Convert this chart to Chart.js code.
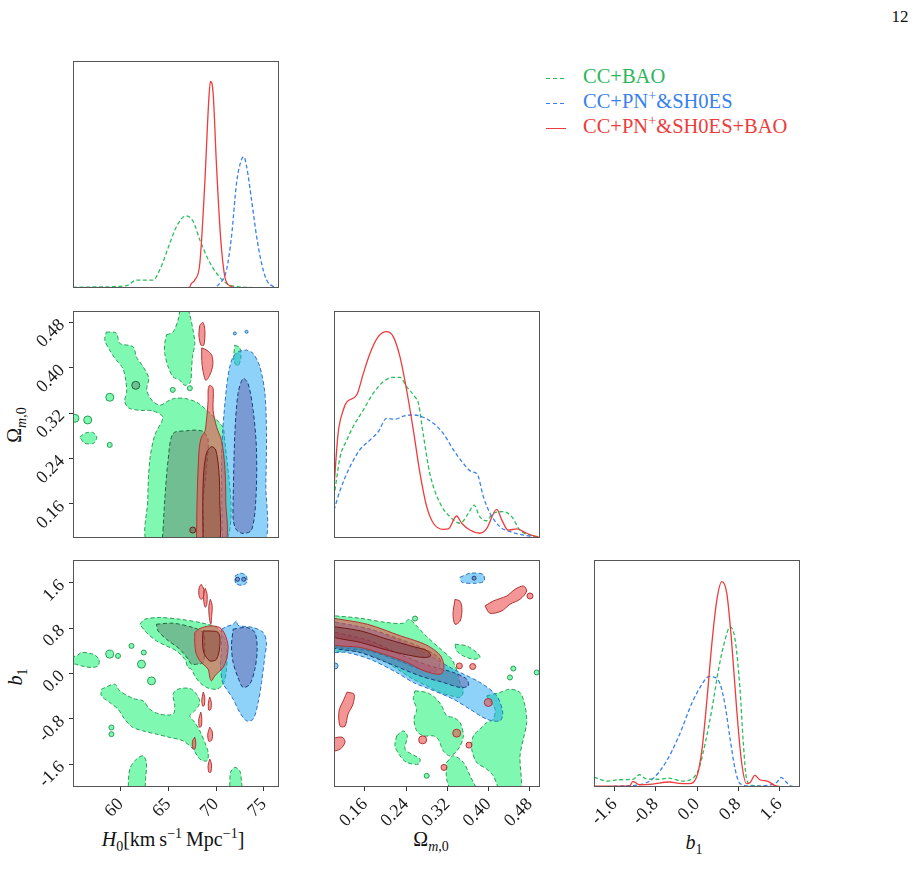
<!DOCTYPE html>
<html>
<head>
<meta charset="utf-8">
<script src="https://cdn.jsdelivr.net/npm/chart.js@4.4.1/dist/chart.umd.min.js"></script>
<style>
  body { margin: 0; background: #fff; }
  #page { position: relative; width: 917px; height: 893px; overflow: hidden; background: #fff;
          font-family: 'Liberation Serif', 'Times New Roman', serif; color: #111; }
  canvas.panel { position: absolute; }
  .txt { position: absolute; white-space: nowrap; transform: translate(-50%, -50%); font-size: 20px; }
  .vert { transform: translate(-50%, -50%) rotate(-90deg); }
  .leg { position: absolute; left: 546px; font-size: 20.5px; line-height: 25px; white-space: nowrap; }
  .leg span.mark { display: inline-block; width: 20px; height: 1.4px; vertical-align: middle; margin-right: 17px; }
  sub, sup { font-size: 70%; line-height: 0; }
</style>
</head>
<body>
<div id="page">
  <div class="txt" style="left:900px; top:17px; font-size:17px;">12</div>

  <div class="leg" style="top:64px; color:#2bb65a;"><span class="mark" style="background:repeating-linear-gradient(to right,#2bb65a 0 4px,transparent 4px 7px);"></span>CC+BAO</div>
  <div class="leg" style="top:89px; color:#3a7fee;"><span class="mark" style="background:repeating-linear-gradient(to right,#3a7fee 0 4px,transparent 4px 7px);"></span>CC+PN<sup>+</sup>&amp;SH0ES</div>
  <div class="leg" style="top:114px; color:#ec3d3d;"><span class="mark" style="background:#ec3d3d;"></span>CC+PN<sup>+</sup>&amp;SH0ES+BAO</div>

  <div class="txt" style="left:173px; top:839px;"><i>H</i><sub>0</sub>[km&#8201;s<sup>&#8722;1</sup>&#8201;Mpc<sup>&#8722;1</sup>]</div>
  <div class="txt" style="left:431px; top:839px;">&#937;<sub><i>m</i>,0</sub></div>
  <div class="txt" style="left:694px; top:842px;"><i>b</i><sub>1</sub></div>
  <div class="txt vert" style="left:14px; top:425px;">&#937;<sub><i>m</i>,0</sub></div>
  <div class="txt vert" style="left:15px; top:677px;"><i>b</i><sub>1</sub></div>
</div>

<script>
// ---- axis ranges and ticks ----
const h0Range = [55, 76.6];
const omRange = [0.1, 0.5];
const b1Range = [-2, 2];
const h0Ticks = [60, 65, 70, 75];
const omTicks = [0.16, 0.24, 0.32, 0.40, 0.48];
const b1Ticks = [-1.6, -0.8, 0.0, 0.8, 1.6];

// ---- 1D marginals (relative height) ----
const h0GreenX = [55.0, 58.0, 60.6, 61.65, 63.4, 64.1, 65.15, 65.85, 66.83, 67.6, 68.3, 69.2, 70.05, 71.1, 72.5, 76.6];
const h0GreenY = [0.003, 0.005, 0.01, 0.035, 0.035, 0.08, 0.197, 0.27, 0.318, 0.293, 0.212, 0.124, 0.065, 0.02, 0.005, 0.0];
const h0BlueX = [67.4, 69.35, 70.39, 71.1, 71.62, 72.15, 72.67, 72.91, 73.2, 73.72, 74.25, 74.77, 75.3, 75.99, 76.6];
const h0BlueY = [0, 0, 0.02, 0.08, 0.227, 0.463, 0.566, 0.578, 0.536, 0.389, 0.227, 0.109, 0.035, 0.007, 0];
const h0RedX = [65.85, 67.2, 67.42, 67.77, 68.3, 68.82, 69.24, 69.41, 69.69, 70.05, 70.47, 70.92, 71.44, 72.15];
const h0RedY = [0, 0.003, 0.02, 0.035, 0.109, 0.463, 0.83, 0.91, 0.86, 0.536, 0.227, 0.05, 0.01, 0];

const omGreenX = [0.1, 0.112, 0.125, 0.137, 0.157, 0.176, 0.196, 0.215, 0.228, 0.241, 0.257, 0.264, 0.273, 0.286, 0.306, 0.325, 0.345, 0.361, 0.372, 0.383, 0.396, 0.409, 0.429, 0.445, 0.461, 0.48, 0.5];
const omGreenY = [0.182, 0.358, 0.432, 0.49, 0.564, 0.637, 0.689, 0.708, 0.708, 0.667, 0.622, 0.593, 0.461, 0.285, 0.153, 0.094, 0.065, 0.109, 0.145, 0.094, 0.076, 0.109, 0.116, 0.094, 0.035, 0.013, 0.005];
const omBlueX = [0.1, 0.112, 0.131, 0.15, 0.17, 0.186, 0.202, 0.218, 0.235, 0.254, 0.273, 0.293, 0.312, 0.332, 0.351, 0.367, 0.378, 0.39, 0.403, 0.422, 0.442, 0.468, 0.5];
const omBlueY = [0.123, 0.211, 0.314, 0.388, 0.432, 0.468, 0.527, 0.523, 0.537, 0.542, 0.532, 0.505, 0.461, 0.388, 0.329, 0.292, 0.282, 0.182, 0.109, 0.05, 0.028, 0.013, 0];
const omRedX = [0.1, 0.108, 0.118, 0.125, 0.144, 0.157, 0.170, 0.186, 0.202, 0.215, 0.228, 0.241, 0.254, 0.267, 0.28, 0.293, 0.312, 0.322, 0.338, 0.348, 0.364, 0.383, 0.396, 0.416, 0.426, 0.438, 0.455, 0.474, 0.5];
const omRedY = [0.226, 0.461, 0.564, 0.60, 0.63, 0.725, 0.814, 0.887, 0.909, 0.887, 0.799, 0.652, 0.476, 0.285, 0.138, 0.065, 0.038, 0.04, 0.097, 0.065, 0.035, 0.021, 0.04, 0.126, 0.079, 0.035, 0.04, 0.021, 0];

const b1GreenX = [-2.0, -1.917, -1.757, -1.501, -1.245, -1.117, -0.989, -0.733, -0.541, -0.285, -0.094, 0.035, 0.163, 0.29, 0.418, 0.547, 0.643, 0.739, 0.835, 0.898, 0.962, 1.058, 2.0];
const b1GreenY = [0.044, 0.036, 0.026, 0.032, 0.034, 0.054, 0.036, 0.034, 0.039, 0.026, 0.036, 0.08, 0.197, 0.343, 0.518, 0.65, 0.705, 0.65, 0.431, 0.197, 0.036, 0.007, 0.0];
const b1BlueX = [-2.0, -1.501, -1.117, -0.861, -0.605, -0.349, -0.094, 0.098, 0.226, 0.354, 0.45, 0.547, 0.643, 0.739, 0.835, 1.058, 1.442, 1.557, 1.634, 1.73, 1.826, 2.0];
const b1BlueY = [0.0, 0.004, 0.01, 0.036, 0.109, 0.226, 0.372, 0.453, 0.486, 0.482, 0.453, 0.358, 0.212, 0.08, 0.015, 0.004, 0.01, 0.022, 0.042, 0.022, 0.004, 0.0];
const b1RedX = [-2.0, -1.629, -1.309, -1.245, -1.117, -0.861, -0.541, -0.349, -0.157, 0.002, 0.098, 0.194, 0.29, 0.386, 0.482, 0.578, 0.674, 0.77, 0.866, 0.962, 1.026, 1.123, 1.219, 1.378, 1.507, 1.762, 2.0];
const b1RedY = [0.004, 0.004, 0.004, 0.025, 0.01, 0.013, 0.022, 0.016, 0.015, 0.05, 0.168, 0.387, 0.635, 0.825, 0.905, 0.854, 0.635, 0.343, 0.109, 0.015, 0.018, 0.051, 0.032, 0.025, 0.007, 0.0, 0.0];

// ---- H0 vs Omega contours ----
const h0OmGreenOuter = [[58.50,0.463],[59.55,0.461],[59.90,0.443],[61.30,0.437],[61.65,0.419],[62.35,0.402],[62.94,0.382],[62.73,0.361],[63.26,0.343],[64.10,0.334],[65.15,0.343],[65.67,0.346],[66.72,0.346],[67.98,0.339],[69.03,0.325],[70.08,0.308],[70.82,0.290],[70.92,0.09],[62.94,0.09],[62.84,0.167],[63.05,0.237],[63.57,0.281],[64.41,0.313],[63.36,0.324],[62.0,0.325],[60.84,0.329],[60.42,0.341],[60.63,0.357],[60.53,0.378],[60.22,0.399],[59.38,0.417],[58.85,0.431],[58.33,0.449]];
const h0OmGreenBlob = [[64.80,0.458],[65.49,0.463],[66.02,0.484],[66.37,0.51],[66.90,0.51],[67.25,0.493],[67.59,0.466],[67.77,0.443],[67.53,0.419],[67.42,0.396],[67.32,0.375],[66.72,0.369],[66.20,0.378],[65.49,0.384],[64.97,0.402],[64.62,0.425],[64.62,0.443]];
const h0OmGreenIsle = [[55.70,0.278],[56.33,0.285],[57.07,0.286],[57.49,0.278],[57.17,0.267],[56.23,0.267]];
const h0OmGreenPatch = [[71.97,0.440],[72.49,0.435],[72.60,0.417],[72.28,0.403],[71.86,0.413]];
const h0OmGreenDotsBig = [[58.86,0.348],[56.54,0.308],[55.2,0.311]];
const h0OmGreenDotsSmall = [[58.85,0.264],[65.46,0.361],[67.25,0.364]];
const h0OmGreenInner = [[64.44,0.114],[64.62,0.167],[64.97,0.237],[65.49,0.284],[66.90,0.289],[67.95,0.290],[68.71,0.287],[69.17,0.272],[69.0,0.225],[68.64,0.167],[68.30,0.09],[64.52,0.09]];
const h0OmGreenInnerDots = [[61.58,0.369]];
const h0OmBlueOuter = [[70.68,0.09],[70.57,0.225],[70.68,0.284],[71.10,0.366],[71.44,0.402],[71.79,0.419],[72.31,0.428],[73.20,0.431],[73.89,0.425],[74.59,0.402],[75.12,0.355],[75.29,0.284],[75.22,0.196],[75.01,0.09]];
const h0OmBlueInner = [[71.79,0.167],[71.97,0.284],[72.31,0.355],[72.84,0.381],[73.36,0.372],[73.89,0.325],[74.24,0.255],[74.17,0.167],[73.72,0.114],[72.84,0.108],[72.15,0.114],[71.81,0.131]];
const h0OmBlueDots = [[71.97,0.4605],[73.2,0.4633]];
const h0OmRedOuter = [[67.95,0.09],[68.01,0.167],[68.22,0.255],[68.47,0.278],[68.82,0.287],[69.0,0.308],[69.17,0.343],[69.17,0.361],[69.34,0.369],[69.69,0.364],[69.69,0.325],[70.05,0.296],[70.57,0.272],[70.92,0.225],[71.02,0.167],[70.92,0.09]];
const h0OmRedInner = [[68.64,0.09],[68.61,0.167],[68.72,0.219],[69.03,0.251],[69.52,0.261],[69.97,0.255],[70.29,0.219],[70.39,0.167],[70.29,0.09]];
const h0OmRedIsleA = [[68.30,0.475],[68.62,0.480],[68.83,0.466],[68.72,0.440],[68.41,0.440],[68.20,0.458]];
const h0OmRedIsleB = [[68.50,0.435],[69.03,0.431],[69.55,0.422],[69.66,0.405],[69.34,0.387],[68.92,0.378],[68.61,0.396],[68.50,0.413]];
const h0OmRedDots = [[67.56,0.114]];

// ---- H0 vs b1 contours ----
const h0B1GreenUpper = [[62.0,0.868],[62.52,0.956],[64.10,0.986],[66.20,0.956],[68.30,0.898],[70.05,0.810],[70.74,0.662],[71.10,0.428],[71.10,0.076],[70.74,-0.188],[70.05,-0.276],[69.0,-0.246],[68.30,-0.158],[67.77,-0.042],[67.42,0.076],[67.07,0.106],[66.72,0.252],[65.85,0.398],[64.80,0.486],[63.75,0.574],[62.70,0.722]];
const h0B1GreenInner = [[63.75,0.868],[65.49,0.886],[67.59,0.810],[68.64,0.722],[68.82,0.486],[68.64,0.194],[67.95,0.164],[67.42,0.164],[67.07,0.252],[66.20,0.428],[64.80,0.604],[63.92,0.750]];
const h0B1GreenBand = [[57.98,-0.276],[59.38,-0.188],[59.90,-0.306],[61.30,-0.440],[62.35,-0.482],[63.05,-0.629],[64.10,-0.717],[65.49,-0.717],[65.67,-0.570],[65.49,-0.364],[66.02,-0.276],[67.25,-0.264],[67.95,-0.364],[68.30,-0.511],[67.77,-0.658],[67.25,-0.746],[67.77,-0.863],[68.30,-1.011],[68.82,-1.215],[69.17,-1.391],[69.06,-1.539],[68.30,-1.509],[67.59,-1.333],[66.54,-1.187],[65.15,-1.127],[63.75,-1.069],[62.35,-1.011],[61.30,-0.951],[60.42,-0.804],[59.72,-0.629],[58.85,-0.511],[57.98,-0.394]];
const h0B1GreenLow = [[60.77,-2.1],[60.95,-1.685],[61.65,-1.509],[62.35,-1.451],[62.70,-1.567],[62.63,-1.803],[62.35,-2.1]];
const h0B1GreenCorner = [[71.44,-2.1],[71.52,-1.743],[71.97,-1.655],[72.49,-1.715],[72.67,-1.919],[72.67,-2.1]];
const h0B1GreenLeft = [[54.8,0.30],[55.42,0.310],[55.88,0.370],[57.10,0.340],[57.73,0.252],[57.62,0.134],[56.93,0.106],[55.88,0.134],[55.28,0.164],[54.8,0.18]];
const h0B1GreenDotsBig = [[58.85,0.341],[62.18,0.164],[63.23,-0.130]];
const h0B1GreenDotsSmall = [[59.72,0.310],[61.13,0.486],[62.42,0.370],[59.03,-0.951],[59.03,-1.069]];
const h0B1BlueOuter = [[70.57,0.780],[71.10,0.827],[71.79,0.868],[72.15,0.926],[72.31,0.850],[73.89,0.810],[74.94,0.722],[75.29,0.546],[75.12,0.310],[74.77,-0.158],[74.41,-0.511],[73.89,-0.805],[73.20,-0.834],[72.49,-0.687],[71.79,-0.452],[71.10,-0.276],[70.68,-0.158],[70.47,0.134],[70.57,0.428]];
const h0B1BlueInner = [[71.79,0.780],[73.20,0.810],[74.07,0.722],[74.31,0.428],[74.07,0.076],[73.54,-0.188],[72.84,-0.246],[72.31,-0.076],[71.79,0.194],[71.62,0.486]];
const h0B1BlueIsle = [[71.97,1.713],[72.49,1.766],[73.12,1.731],[73.23,1.607],[72.70,1.554],[72.07,1.590]];
const h0B1BlueIsleCore = [[72.25,1.66],[72.9,1.66]];
const h0B1RedOuter = [[67.77,0.722],[68.30,0.792],[69.34,0.838],[70.39,0.810],[70.92,0.692],[71.26,0.486],[71.10,0.252],[70.74,0.106],[70.22,0.018],[69.87,-0.042],[69.52,-0.130],[69.34,-0.070],[69.17,0.076],[68.30,0.222],[67.88,0.370],[67.77,0.546]];
const h0B1RedInner = [[68.64,0.750],[70.22,0.722],[70.39,0.486],[70.05,0.252],[69.34,0.222],[68.71,0.370],[68.58,0.604]];
const h0B1RedIsles = [
  [[68.45,1.572],[68.71,1.484],[68.66,1.343],[68.40,1.308],[68.19,1.396],[68.24,1.519]],
  [[68.87,1.502],[69.06,1.396],[69.03,1.220],[68.87,1.167],[68.71,1.273],[68.71,1.414]],
  [[69.40,1.308],[69.59,1.202],[69.55,1.026],[69.45,0.868],[69.29,0.991],[69.24,1.185]],
  [[68.66,-0.329],[68.82,-0.417],[68.77,-0.558],[68.61,-0.575],[68.50,-0.470]],
  [[69.34,-0.417],[69.50,-0.505],[69.45,-0.628],[69.24,-0.646],[69.19,-0.523]],
  [[68.40,-0.681],[68.50,-0.769],[68.45,-0.928],[68.24,-0.945],[68.19,-0.805]],
  [[69.34,-0.945],[69.61,-1.033],[69.55,-1.174],[69.24,-1.192],[69.13,-1.069]],
  [[67.77,-1.121],[67.88,-1.227],[67.77,-1.333],[67.56,-1.315],[67.53,-1.192]],
  [[69.34,-1.509],[69.52,-1.597],[69.45,-1.738],[69.24,-1.738],[69.17,-1.615]]
];

// ---- Omega vs b1 contours ----
const omB1GreenOuter = [[0.09,1.026],[0.1505,0.974],[0.2023,0.898],[0.2346,0.886],[0.2462,0.956],[0.2573,0.868],[0.2800,0.651],[0.3058,0.440],[0.3285,0.252],[0.3382,0.063],[0.3433,-0.130],[0.3511,-0.306],[0.3447,-0.423],[0.3285,-0.394],[0.3058,-0.335],[0.2800,-0.218],[0.2540,-0.100],[0.2282,0.046],[0.2023,0.194],[0.1699,0.322],[0.1375,0.398],[0.09,0.428]];
const omB1GreenInner = [[0.09,0.921],[0.1699,0.780],[0.2282,0.604],[0.2767,0.428],[0.3058,0.252],[0.2981,0.040],[0.2670,0.076],[0.2282,0.217],[0.1699,0.393],[0.09,0.516]];
const omB1GreenPatchA = [[0.2573,-0.306],[0.2800,-0.335],[0.2961,-0.423],[0.3091,-0.570],[0.3188,-0.746],[0.3317,-0.775],[0.3447,-0.863],[0.3511,-1.099],[0.3414,-1.333],[0.3252,-1.451],[0.3122,-1.363],[0.3025,-1.157],[0.2928,-1.099],[0.2734,-1.099],[0.2606,-1.011],[0.2553,-0.805],[0.2606,-0.629],[0.2540,-0.452]];
const omB1GreenPatchB = [[0.3965,-0.394],[0.4223,-0.335],[0.4417,-0.276],[0.4612,-0.335],[0.4709,-0.570],[0.4742,-0.863],[0.4676,-1.157],[0.4612,-1.451],[0.4612,-2.1],[0.4256,-2.1],[0.4093,-1.803],[0.3965,-1.685],[0.3771,-1.567],[0.3674,-1.333],[0.3705,-1.099],[0.3835,-0.981],[0.3965,-0.863],[0.4093,-0.805],[0.4126,-0.629],[0.4029,-0.488]];
const omB1GreenPatchC = [[0.3188,-1.567],[0.3317,-1.451],[0.3511,-1.567],[0.3641,-1.803],[0.3771,-2.1],[0.3317,-2.1],[0.3188,-1.861]];
const omB1GreenPatchD = [[0.2217,-1.099],[0.2346,-1.011],[0.2423,-1.099],[0.2379,-1.333],[0.2509,-1.421],[0.2670,-1.509],[0.2637,-1.597],[0.2412,-1.567],[0.2282,-1.451],[0.2184,-1.275]];
const omB1GreenPatchE = [[0.3350,0.516],[0.3577,0.486],[0.3771,0.370],[0.3835,0.282],[0.3705,0.252],[0.3511,0.310],[0.3382,0.398]];
const omB1GreenDots = [[0.4417,-0.070],[0.4482,0.088],[0.4936,0.018],[0.2573,0.968],[0.2800,-1.803]];
const omB1BlueOuter = [[0.09,0.93],[0.1699,0.780],[0.2346,0.546],[0.2864,0.310],[0.3317,0.076],[0.3835,-0.158],[0.4159,-0.394],[0.4276,-0.687],[0.4223,-0.834],[0.3965,-0.805],[0.3641,-0.629],[0.3317,-0.452],[0.2864,-0.276],[0.2540,-0.158],[0.2217,0.018],[0.1699,0.252],[0.1247,0.370],[0.09,0.398]];
const omB1BlueInner = [[0.09,0.750],[0.1699,0.574],[0.2346,0.310],[0.2864,0.134],[0.3317,0.018],[0.3577,-0.100],[0.3608,-0.218],[0.3447,-0.246],[0.3122,-0.158],[0.2670,-0.042],[0.2023,0.194],[0.1505,0.370],[0.09,0.486]];
const omB1BlueIsle = [[0.3447,1.695],[0.3641,1.766],[0.3893,1.748],[0.3913,1.625],[0.3738,1.590],[0.3485,1.607]];
const omB1BlueIsleCore = [[0.372,1.68]];
const omB1BlueDots = [[0.102,0.134]];
const omB1RedOuter = [[0.09,0.986],[0.1647,0.868],[0.2295,0.662],[0.2683,0.546],[0.2878,0.458],[0.3072,0.310],[0.3136,0.106],[0.3072,-0.012],[0.2748,0.046],[0.2423,0.194],[0.1971,0.340],[0.1518,0.458],[0.09,0.546]];
const omB1RedInner = [[0.09,0.838],[0.1518,0.750],[0.2035,0.604],[0.2489,0.486],[0.2812,0.398],[0.2878,0.310],[0.2748,0.282],[0.2359,0.340],[0.1971,0.428],[0.1518,0.546],[0.09,0.674]];
const omB1RedIsles = [
  [[0.3350,1.308],[0.3447,1.273],[0.3485,1.132],[0.3447,0.921],[0.3350,0.868],[0.3311,1.044]],
  [[0.3932,1.190],[0.4093,1.278],[0.4353,1.366],[0.4515,1.484],[0.4676,1.542],[0.4742,1.454],[0.4612,1.308],[0.4417,1.220],[0.4256,1.102],[0.4029,1.062]],
  [[0.1252,-0.329],[0.1388,-0.364],[0.1369,-0.540],[0.1272,-0.716],[0.1214,-0.927],[0.1117,-0.927],[0.1097,-0.663],[0.1194,-0.452]],
  [[0.09,-1.157],[0.1155,-1.121],[0.1214,-1.209],[0.1117,-1.333],[0.09,-1.368]]
];
const omB1RedDotsBig = [[0.3996,-0.511],[0.3382,-1.051],[0.2722,-1.169]];
const omB1RedDotsSmall = [[0.3434,0.134],[0.3693,0.123],[0.3621,-1.262],[0.3136,-1.655],[0.4806,1.366]];

// ---- styling ----
const SERIF = "'Liberation Serif', 'Times New Roman', serif";
Chart.defaults.font.family = SERIF;

const STY = {
  green: { line: '#2bbf5c', outerFill: 'rgba(0,241,100,0.5)', innerFill: 'rgba(90,110,100,0.42)', outerEdge: '#2a9d55', innerEdge: '#1d6a3c', dash: [4, 2.5] },
  blue:  { line: '#3a80ee', outerFill: 'rgba(30,165,245,0.5)', innerFill: 'rgba(91,72,155,0.4)', outerEdge: '#2f6fc0', innerEdge: '#1b3a7a', dash: [4, 2.5] },
  red:   { line: '#ee3b3b', outerFill: 'rgba(236,80,80,0.6)', innerFill: 'rgba(110,40,35,0.36)', outerEdge: '#b03434', innerEdge: '#761818', dash: [] }
};

const PW = 206, PH = 227;
const PAD_TOP = 30, PAD_LEFT = 70, PAD_RIGHT = 10, PAD_BOTTOM = 75;
const page = document.getElementById('page');

function toXY(arr) { return arr.map(p => ({ x: p[0], y: p[1] })); }

function region(pts, s, inner) {
  return {
    data: toXY(pts.concat([pts[0]])), showLine: true, fill: 'shape',
    backgroundColor: inner ? s.innerFill : s.outerFill,
    borderColor: inner ? s.innerEdge : s.outerEdge,
    borderWidth: 1, borderDash: s.dash, pointRadius: 0, tension: 0.3
  };
}

function dots(pts, r, s, inner) {
  return {
    data: toXY(pts), showLine: false, pointRadius: r, pointHoverRadius: r,
    pointBackgroundColor: inner ? s.innerFill : s.outerFill,
    pointBorderColor: inner ? s.innerEdge : s.outerEdge, pointBorderWidth: 1
  };
}

function line1d(xs, ys, s) {
  return {
    data: xs.map((x, i) => ({ x: x, y: ys[i] })), showLine: true, fill: false,
    borderColor: s.line, borderWidth: 1.3, borderDash: s.dash, pointRadius: 0,
    cubicInterpolationMode: 'monotone'
  };
}

// full box round the plotting area
const framePlugin = {
  id: 'frame',
  afterDatasetsDraw(chart) {
    const a = chart.chartArea, c = chart.ctx;
    c.save();
    c.strokeStyle = '#555';
    c.lineWidth = 1;
    c.strokeRect(a.left + 0.5, a.top + 0.5, a.right - a.left - 1, a.bottom - a.top - 1);
    c.restore();
  }
};

function axis(range, ticks, fmt, isX) {
  const show = !!ticks;
  return {
    type: 'linear', min: range[0], max: range[1],
    afterBuildTicks: s => { s.ticks = (ticks || []).map(v => ({ value: v })); },
    afterFit: s => { if (isX) s.height = PAD_BOTTOM; else s.width = PAD_LEFT; },
    border: { display: false },
    grid: { display: show, drawOnChartArea: false, drawTicks: show, tickLength: 4, color: '#333', tickColor: '#333' },
    ticks: {
      display: show, minRotation: 45, maxRotation: 45, autoSkip: false, padding: isX ? 3 : 7,
      color: '#1a1a1a', font: { family: SERIF, size: 18 },
      callback: v => fmt(v)
    }
  };
}

function makePanel(left, top, xAxis, yAxis, sets) {
  const cv = document.createElement('canvas');
  cv.className = 'panel';
  cv.width = PW + PAD_LEFT + PAD_RIGHT;
  cv.height = PH + PAD_TOP + PAD_BOTTOM;
  cv.style.left = (left - PAD_LEFT) + 'px';
  cv.style.top = (top - PAD_TOP) + 'px';
  page.appendChild(cv);
  const n = sets.length;
  sets.forEach((d, i) => { d.order = n - i; });   // first in list is drawn first
  return new Chart(cv, {
    type: 'scatter',
    data: { datasets: sets },
    options: {
      responsive: false, animation: false, events: [],
      layout: { padding: { top: PAD_TOP, right: PAD_RIGHT, left: 0, bottom: 0 } },
      elements: { line: { capBezierPoints: false } },
      plugins: { legend: { display: false }, tooltip: { enabled: false } },
      scales: { x: xAxis, y: yAxis }
    },
    plugins: [framePlugin]
  });
}

const fH0 = v => String(v);
const fOm = v => v.toFixed(2);
const fB1 = v => v.toFixed(1);
const unit = [0, 1];

// H0 marginal
makePanel(73, 61, axis(h0Range, null, fH0, true), axis(unit, null, fH0, false), [
  line1d(h0GreenX, h0GreenY, STY.green),
  line1d(h0BlueX, h0BlueY, STY.blue),
  line1d(h0RedX, h0RedY, STY.red)
]);

// H0 vs Omega
makePanel(73, 311, axis(h0Range, null, fH0, true), axis(omRange, omTicks, fOm, false), [
  region(h0OmGreenOuter, STY.green), region(h0OmGreenBlob, STY.green),
  region(h0OmGreenIsle, STY.green), region(h0OmGreenPatch, STY.green),
  dots(h0OmGreenDotsBig, 4, STY.green), dots(h0OmGreenDotsSmall, 2.5, STY.green),
  region(h0OmGreenInner, STY.green, true), dots(h0OmGreenInnerDots, 4, STY.green, true),
  region(h0OmBlueOuter, STY.blue), region(h0OmBlueInner, STY.blue, true),
  dots(h0OmBlueDots, 1.5, STY.blue),
  region(h0OmRedOuter, STY.red), region(h0OmRedInner, STY.red, true),
  region(h0OmRedIsleA, STY.red), region(h0OmRedIsleB, STY.red),
  dots(h0OmRedDots, 3, STY.red, true)
]);

// Omega marginal
makePanel(334, 311, axis(omRange, null, fOm, true), axis(unit, null, fOm, false), [
  line1d(omGreenX, omGreenY, STY.green),
  line1d(omBlueX, omBlueY, STY.blue),
  line1d(omRedX, omRedY, STY.red)
]);

// H0 vs b1
makePanel(73, 560, axis(h0Range, h0Ticks, fH0, true), axis(b1Range, b1Ticks, fB1, false), [
  region(h0B1GreenUpper, STY.green), region(h0B1GreenBand, STY.green),
  region(h0B1GreenLow, STY.green), region(h0B1GreenCorner, STY.green),
  region(h0B1GreenLeft, STY.green),
  dots(h0B1GreenDotsBig, 4, STY.green), dots(h0B1GreenDotsSmall, 2.5, STY.green),
  region(h0B1GreenInner, STY.green, true),
  region(h0B1BlueOuter, STY.blue), region(h0B1BlueInner, STY.blue, true),
  region(h0B1BlueIsle, STY.blue), dots(h0B1BlueIsleCore, 2, STY.blue, true),
  region(h0B1RedOuter, STY.red), region(h0B1RedInner, STY.red, true)
].concat(h0B1RedIsles.map(p => region(p, STY.red))));

// Omega vs b1
makePanel(334, 560, axis(omRange, omTicks, fOm, true), axis(b1Range, null, fB1, false), [
  region(omB1GreenOuter, STY.green), region(omB1GreenPatchA, STY.green),
  region(omB1GreenPatchB, STY.green), region(omB1GreenPatchC, STY.green),
  region(omB1GreenPatchD, STY.green), region(omB1GreenPatchE, STY.green),
  dots(omB1GreenDots, 2.5, STY.green),
  region(omB1GreenInner, STY.green, true),
  region(omB1BlueOuter, STY.blue), region(omB1BlueInner, STY.blue, true),
  region(omB1BlueIsle, STY.blue), dots(omB1BlueIsleCore, 2, STY.blue, true),
  dots(omB1BlueDots, 3, STY.blue),
  region(omB1RedOuter, STY.red), region(omB1RedInner, STY.red, true)
].concat(omB1RedIsles.map(p => region(p, STY.red)), [
  dots(omB1RedDotsBig, 4, STY.red), dots(omB1RedDotsSmall, 3, STY.red)
]));

// b1 marginal
makePanel(594, 560, axis(b1Range, b1Ticks, fB1, true), axis(unit, null, fB1, false), [
  line1d(b1GreenX, b1GreenY, STY.green),
  line1d(b1BlueX, b1BlueY, STY.blue),
  line1d(b1RedX, b1RedY, STY.red)
]);
</script>
</body>
</html>
